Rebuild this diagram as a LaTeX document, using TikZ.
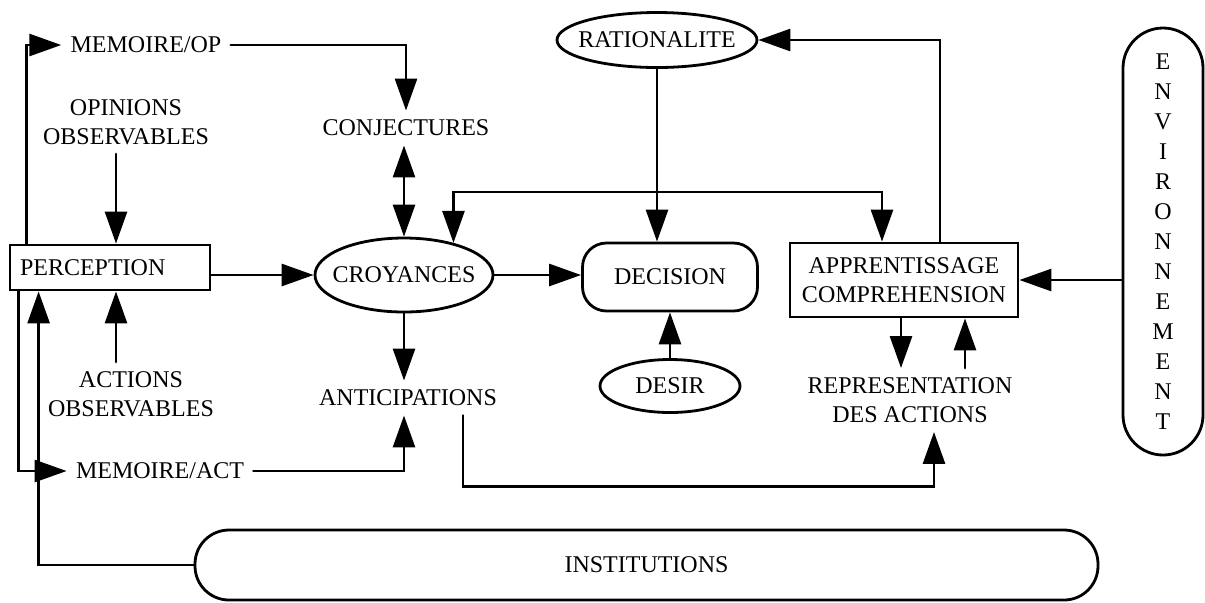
\documentclass[tikz,border=0pt]{standalone}
\usepackage{fontspec}
\setmainfont{Liberation Serif}
\usetikzlibrary{arrows.meta,calc,shapes.geometric}
\begin{document}
\begin{tikzpicture}[x=0.5pt,y=-0.5pt,line width=1.4pt,line cap=round,
  font=\fontsize{12}{14.5}\selectfont,
  >={Triangle[length=16pt,width=11pt]},
  txt/.style={inner sep=4pt,align=center},
  rbox/.style={draw,rectangle,inner sep=0pt,align=center},
  oval/.style={draw,ellipse,inner sep=0pt},
  pill/.style={draw,rectangle,inner sep=0pt,align=center}]
\useasboundingbox (0,0) rectangle (1205,602);
\node[rbox,text width=90pt,inner xsep=5pt,align=left,minimum height=22.5pt] (perc) at (110,267.5) {PERCEPTION};
\node[txt] (mop) at (146,45) {MEMOIRE/OP};
\node[txt] (opi) at (126,122) {OPINIONS\\OBSERVABLES};
\node[txt] (act) at (131,394) {ACTIONS\\OBSERVABLES};
\node[txt] (mact) at (160,471) {MEMOIRE/ACT};
\node[txt] (conj) at (406,128) {CONJECTURES};
\node[oval,minimum width=89pt,minimum height=37pt] (cro) at (404,275) {\makebox[0pt]{CROYANCES}};
\node[txt] (anti) at (408,398) {ANTICIPATIONS};
\node[oval,minimum width=100pt,minimum height=27.5pt] (rat) at (657,40) {\makebox[0pt]{RATIONALITE}};
\node[pill,rounded corners=12pt,minimum width=87.5pt,minimum height=34pt] (dec) at (670,277) {DECISION};
\node[oval,minimum width=70pt,minimum height=26.5pt] (des) at (670,386) {\makebox[0pt]{DESIR}};
\node[rbox,minimum width=114pt,minimum height=37pt] (app) at (904,280) {APPRENTISSAGE\\COMPREHENSION};
\node[txt] (rep) at (910,400) {REPRESENTATION\\DES ACTIONS};
\node[pill,rounded corners=20pt,minimum width=40pt,minimum height=213.5pt,
  font=\fontsize{12}{15}\selectfont] (env) at (1163,241.5) {E\\N\\V\\I\\R\\O\\N\\N\\E\\M\\E\\N\\T};
\node[pill,rounded corners=17pt,minimum width=451.5pt,minimum height=35pt] (inst) at (646.5,565) {INSTITUTIONS};
\coordinate (pin) at ($(perc.north)+(6,0)$);
\coordinate (pout) at ($(perc.south)+(6,0)$);
\coordinate (fbl) at (452,192);
\coordinate (fbr) at (882,192);
\coordinate (adn) at ($(app.south)+(-3,0)$);
\coordinate (aup) at ($(app.south)+(61,0)$);
\draw[->] ($(perc.north west)+(18,0)$) |- (mop.west);
\draw[->] (mop.east) -| (conj.north);
\draw[->] (opi.south -| pin) -- (pin);
\draw[->] (act.north -| pout) -- (pout);
\draw[->] ($(perc.south west)+(10,0)$) |- (mact.west);
\draw[->] (inst.west) -| ($(perc.south west)+(30,0)$);
\draw[->] (mact.east) -| (anti.south -| cro.south);
\draw[->] (cro.south) -- (cro.south |- anti.north);
\draw[->] (cro.west -| perc.east) -- (cro.west);
\draw[<->] (conj.south -| cro.north) -- (cro.north);
\draw[->] (cro.east) -- (cro.east -| dec.west);
\draw[->] (rat.south) -- (rat.south |- dec.north);
\draw[->] (des.north) -- (des.north |- dec.south);
\draw[<->] (cro.33) -- (cro.33 |- fbl) -- (fbr) -- (fbr |- app.north);
\draw[->] ($(app.north)+(36,0)$) |- (rat.east);
\draw[->] (app.east -| env.west) -- (app.east);
\draw[->] (adn) -- (adn |- rep.north);
\draw[->] (aup |- rep.north) -- (aup);
\draw[->] ($(anti.south)+(55,0)$) -- ++(0,71) -| ($(rep.south)+(24,0)$);
\end{tikzpicture}
\end{document}
